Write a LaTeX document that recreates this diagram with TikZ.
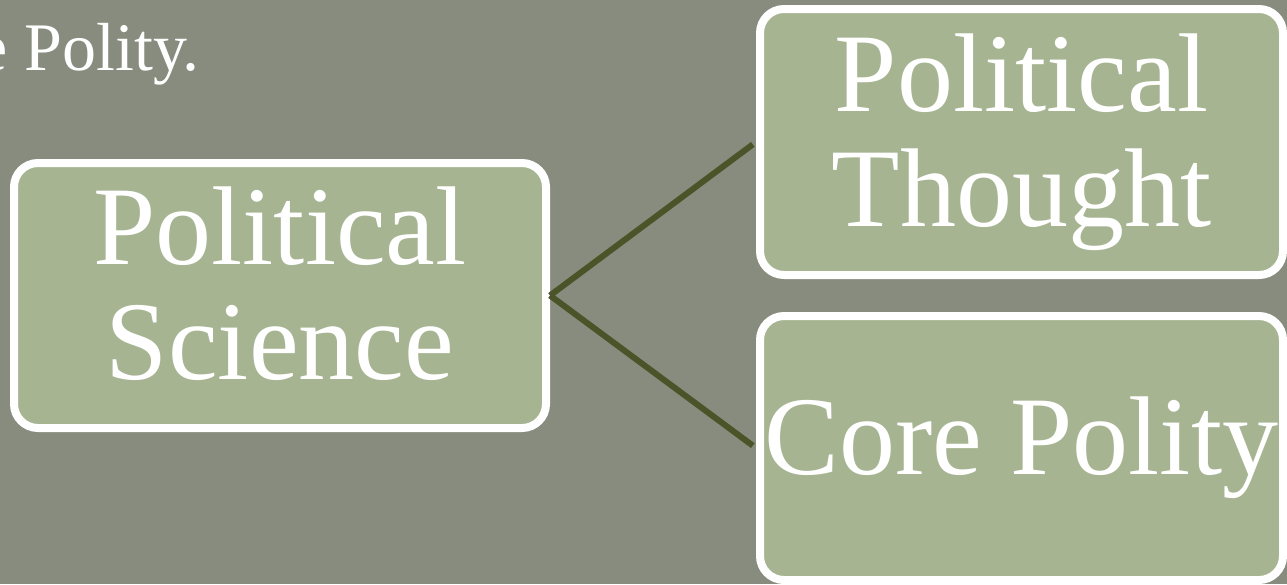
\documentclass[tikz,border=0pt]{standalone}
\usepackage{fontspec}
\setmainfont{Liberation Serif}
\definecolor{slate}{RGB}{135,140,126}
\definecolor{sage}{RGB}{166,180,146}
\definecolor{olive}{RGB}{74,84,40}
\begin{document}
\begin{tikzpicture}[x=1pt,y=-1pt,
  box/.style={draw=white, fill=sage, line width=8pt, rounded corners=24pt,
    inner sep=0pt, text=white, align=center,
    font=\fontsize{112}{115}\selectfont},
  link/.style={draw=olive, line width=6pt}]
\useasboundingbox (0,0) rectangle (1287,584);
\clip (0,0) rectangle (1287,584);
\fill[slate] (0,0) rectangle (1287,584);

% heading line running in from the left
\node[text=white, anchor=base east, inner sep=0pt,
  font=\fontsize{68}{70}\selectfont] (head) at (200,70) {e Polity.};

% the three boxes
\node[box, minimum width=532pt, minimum height=265pt] (sci) at (280,295.5)
  {Political\\Science\vphantom{g}};
\node[box, minimum width=523pt, minimum height=266pt] (thought) at (1021.5,142)
  {Political\\Thought};
\node[box, minimum width=523pt, minimum height=264pt] (polity) at (1021.5,448)
  {Core Polity};

% connectors from the parent box to both children
\draw[link, shorten >=4pt] (sci.east) -- (thought.west);
\draw[link, shorten >=4pt] (sci.east) -- (polity.west);
\end{tikzpicture}
\end{document}
